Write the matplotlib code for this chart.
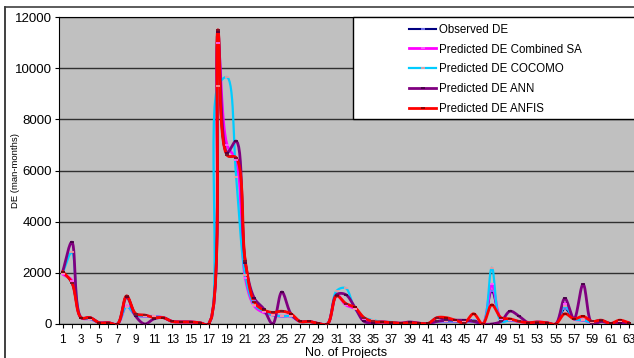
import matplotlib
matplotlib.use("Agg")
import matplotlib.pyplot as plt
from matplotlib.lines import Line2D
from matplotlib.patches import Rectangle
import numpy as np

plt.rcParams['font.family'] = ['Liberation Sans', 'DejaVu Sans']

projects = np.arange(1, 64)

observed = [2050, 1600, 250, 250, 50, 50, 0, 1100, 400, 350, 250, 250, 100, 80, 80, 50, 0,
            11500, 6600, 6500, 2450, 900, 550, 450, 500, 400, 100, 100, 20, 0,
            1100, 800, 600, 250, 100, 80, 60, 30, 50, 30, 20, 250, 150, 100, 50, 150, 0,
            1300, 200, 150, 100, 50, 80, 50, 0, 600, 200, 150, 100, 150, 20, 100, 50]
combined_sa = [1950, 1700, 250, 200, 50, 50, 0, 700, 350, 300, 300, 250, 100, 80, 80, 50, 0,
               11000, 7000, 6400, 1800, 700, 450, 350, 300, 300, 100, 100, 20, 0,
               1150, 750, 600, 200, 100, 80, 60, 30, 50, 30, 20, 100, 100, 100, 100, 100, 0,
               1550, 200, 150, 100, 50, 80, 50, 0, 800, 200, 150, 50, 100, 20, 100, 50]
cocomo = [2000, 2800, 250, 200, 50, 50, 0, 680, 350, 300, 300, 250, 100, 80, 80, 50, 0,
          9300, 9650, 5750, 1900, 750, 500, 350, 300, 300, 100, 100, 20, 0,
          1300, 1400, 600, 250, 150, 80, 80, 30, 50, 30, 20, 100, 100, 100, 100, 100, 0,
          2200, 100, 150, 100, 50, 80, 50, 0, 700, 200, 150, 50, 100, 20, 100, 50]
ann = [2050, 3200, 250, 250, 50, 50, 0, 1050, 300, 0, 200, 250, 100, 80, 80, 50, 0,
       11400, 6700, 7150, 2400, 1000, 600, 0, 1250, 400, 100, 100, 20, 0,
       1150, 1150, 650, 100, 50, 80, 50, 30, 80, 30, 20, 100, 150, 150, 150, 100, 0,
       0, 100, 500, 300, 50, 50, 50, 0, 1000, 200, 1550, 0, 100, 20, 50, 50]
anfis = [2050, 1620, 250, 250, 50, 50, 0, 1100, 400, 350, 250, 250, 100, 80, 80, 50, 0,
         11500, 6600, 6500, 2450, 850, 550, 450, 500, 400, 100, 100, 20, 0,
         1100, 800, 650, 250, 100, 80, 60, 30, 50, 30, 20, 250, 250, 150, 50, 400, 0,
         750, 250, 200, 100, 50, 80, 50, 0, 400, 200, 300, 100, 150, 20, 150, 50]


def smooth(x, y, n=14):
    # centripetal catmull-rom in screen-ish units, close to excel's smoothed lines
    sx, sy = 9.13, 307 / 12000
    P = np.column_stack([np.asarray(x, float) * sx, np.asarray(y, float) * sy])
    P = np.vstack([2 * P[0] - P[1], P, 2 * P[-1] - P[-2]])
    out = []
    for i in range(1, len(P) - 2):
        P0, P1, P2, P3 = P[i - 1], P[i], P[i + 1], P[i + 2]
        t0 = 0.0
        t1 = t0 + np.linalg.norm(P1 - P0) ** 0.5
        t2 = t1 + np.linalg.norm(P2 - P1) ** 0.5
        t3 = t2 + np.linalg.norm(P3 - P2) ** 0.5
        t = np.linspace(t1, t2, n, endpoint=False)[:, None]
        A1 = (t1 - t) / (t1 - t0) * P0 + (t - t0) / (t1 - t0) * P1
        A2 = (t2 - t) / (t2 - t1) * P1 + (t - t1) / (t2 - t1) * P2
        A3 = (t3 - t) / (t3 - t2) * P2 + (t - t2) / (t3 - t2) * P3
        B1 = (t2 - t) / (t2 - t0) * A1 + (t - t0) / (t2 - t0) * A2
        B2 = (t3 - t) / (t3 - t1) * A2 + (t - t1) / (t3 - t1) * A3
        out.append((t2 - t) / (t2 - t1) * B1 + (t - t1) / (t2 - t1) * B2)
    out.append(P[-2][None, :])
    out = np.vstack(out)
    return out[:, 0] / sx, out[:, 1] / sy


fig = plt.figure(figsize=(6.34, 3.58), dpi=100)
ax = fig.add_axes([59 / 634, 1 - 324 / 358, 1 - 59 / 634, 307 / 358])
ax.set_facecolor('#c0c0c0')

series = [
    (observed, 'Observed DE', '#000080', 1.5, '#8080ff'),
    (combined_sa, 'Predicted DE Combined SA', '#ff00ff', 2.0, '#ff66ff'),
    (cocomo, 'Predicted DE COCOMO', '#00ccff', 1.6, '#ff9999'),
    (ann, 'Predicted DE ANN', '#800080', 2.0, '#400040'),
    (anfis, 'Predicted DE ANFIS', '#ff0000', 2.0, '#800000'),
]
handles = []
for vals, name, col, lw, mcol in series:
    sx, sy = smooth(projects, vals)
    ax.plot(sx, sy, color=col, lw=lw, solid_capstyle='round', zorder=3)
    ax.plot(projects, vals, ls='none', marker='_', ms=3, mew=1.2, color=mcol, zorder=4)
    handles.append(Line2D([], [], color=col, lw=lw, marker='_', ms=3, mew=1.2, mec=mcol))

ax.set_ylim(0, 12000)
ax.set_xlim(1 - 3.7 / 9.13, 1 + (634 - 62.7) / 9.13)
ax.set_yticks(np.arange(0, 12001, 2000))
ax.set_xticks(projects[::2])
ax.set_xticks(projects, minor=True)
ax.grid(axis='y', color='#303030', lw=1.0)
ax.set_axisbelow(True)
ax.tick_params(axis='y', length=3, labelsize=9.5, pad=2)
ax.tick_params(axis='x', which='both', length=3, labelsize=8.5, pad=4, direction='out')
ax.spines['right'].set_visible(False)
for s in ['left', 'bottom', 'top']:
    ax.spines[s].set_color('black')
ax.set_ylabel('DE (man-months)', fontsize=6.8)
ax.yaxis.set_label_coords((20 - 59) / 575, 0.5)
ax.set_xlabel('No. of Projects', fontsize=9, labelpad=1)

# legend box
ax.add_patch(Rectangle(((353 - 59) / 575, 1 - (119 - 17) / 307), 0.6, (119 - 17) / 307,
                       transform=ax.transAxes, facecolor='white', edgecolor='black',
                       lw=1.0, zorder=5, clip_on=False))
ax.legend(handles, [s[1] for s in series], loc='upper left',
          bbox_to_anchor=((399 - 59) / 575, 1.012), frameon=False,
          fontsize=8.3, handlelength=2.3, handletextpad=0.25, labelspacing=0.68).set_zorder(6)

# outer border of the original picture
fig.add_artist(Line2D([5 / 634, 5 / 634], [0, 1 - 7 / 358], color='#202020', lw=1.2,
                      transform=fig.transFigure))
fig.add_artist(Line2D([5 / 634, 1], [1 - 7 / 358, 1 - 7 / 358], color='#404040', lw=1.2,
                      transform=fig.transFigure))

fig.savefig('out.png', dpi=100)
